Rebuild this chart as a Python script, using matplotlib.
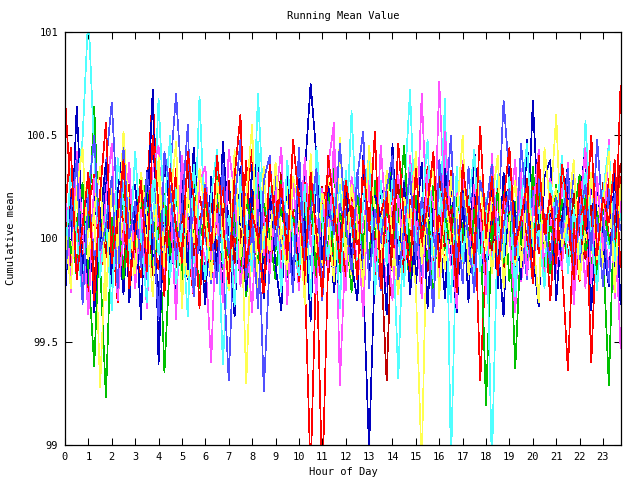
import numpy as np
import matplotlib
matplotlib.use("Agg")
import matplotlib.pyplot as plt

STEP_H = 0.25  # sampling step (hours)

s01 = [100.68, 100.21, 99.86, 100.05, 99.74, 100.18, 100.32, 99.91, 100.07, 99.69, 100.14, 100.26,
       99.95, 99.81, 100.22, 100.71, 100.03, 99.77, 100.12, 99.88, 100.35, 99.96, 99.72, 100.09,
       100.19, 99.84, 99.98, 100.27, 99.79, 100.11, 99.93, 100.38, 99.85, 100.02, 99.71, 100.16,
       100.24, 99.90, 100.06, 99.76, 100.29, 99.83, 98.85, 99.94, 100.13, 100.31, 99.87, 100.04,
       99.78, 100.20, 100.01, 99.89, 100.36, 99.75, 100.10, 99.97, 100.25, 99.82, 100.08, 99.92,
       100.17, 99.73, 100.28, 99.99, 100.12, 99.86, 100.33, 99.80, 100.05, 99.95, 100.21, 99.31,
       99.91, 100.15, 99.84, 100.30, 100.02, 99.77, 100.19, 99.88, 100.26, 99.93, 100.09, 99.70,
       100.14, 100.35, 99.87, 100.06, 99.79, 100.23, 99.40, 100.11, 99.96, 100.29, 99.85, 100.74]
s02 = [99.92, 100.13, 99.81, 100.26, 100.04, 100.64, 99.88, 99.23, 100.10, 99.97, 100.22, 99.79,
       100.08, 100.31, 99.86, 100.01, 100.17, 99.35, 99.94, 100.24, 99.83, 100.12, 100.03, 99.76,
       100.20, 99.91, 100.34, 99.85, 100.07, 99.98, 100.18, 99.72, 100.11, 100.27, 99.89, 100.02,
       99.80, 100.15, 99.95, 100.30, 99.87, 100.06, 100.23, 99.78, 100.14, 99.93, 100.37, 99.84,
       100.09, 99.74, 100.19, 100.00, 99.90, 100.28, 99.82, 100.13, 100.42, 99.96, 100.05, 99.77,
       100.21, 99.88, 100.10, 99.69, 100.25, 99.94, 100.16, 99.81, 100.32, 100.01, 99.86, 100.12,
       99.19, 100.07, 99.92, 100.24, 99.79, 100.18, 100.03, 99.87, 100.35, 99.97, 100.11, 99.83,
       100.26, 99.90, 100.15, 99.75, 100.08, 100.20, 99.86, 100.13, 99.95, 99.29, 100.22, 100.04]
s03 = [100.12, 99.89, 100.64, 100.03, 99.78, 100.21, 99.95, 100.30, 99.84, 100.09, 99.73, 100.17,
       100.26, 99.92, 100.05, 100.72, 99.39, 100.14, 99.87, 100.23, 100.01, 99.80, 100.33, 99.96,
       99.85, 100.19, 100.07, 99.77, 100.28, 99.94, 100.11, 99.82, 100.36, 100.00, 99.88, 100.15,
       99.97, 100.24, 99.81, 100.10, 99.90, 100.31, 100.75, 100.40, 99.86, 100.18, 99.74, 100.06,
       100.22, 99.93, 100.12, 99.79, 98.98, 99.88, 100.27, 100.02, 99.84, 100.16, 99.95, 100.34,
       99.78, 100.09, 100.21, 99.87, 100.04, 99.71, 100.29, 99.96, 100.13, 99.83, 100.25, 100.00,
       99.90, 100.17, 99.76, 100.32, 100.06, 99.85, 100.20, 99.94, 100.67, 100.08, 99.80, 100.14,
       100.01, 99.89, 100.26, 99.73, 100.11, 99.97, 100.30, 99.82, 100.07, 100.19, 99.86, 100.23]
s04 = [99.88, 100.15, 100.02, 99.79, 100.24, 99.91, 100.09, 100.33, 99.85, 100.06, 99.97, 100.20,
       99.76, 100.11, 99.93, 100.28, 100.04, 99.82, 100.17, 99.98, 100.36, 99.87, 100.13, 100.01,
       99.90, 99.40, 100.21, 99.95, 100.08, 99.78, 100.30, 100.05, 99.86, 100.19, 99.92, 100.12,
       100.27, 99.83, 100.00, 100.14, 99.75, 100.22, 99.96, 100.10, 99.88, 100.35, 100.56, 99.29,
       99.98, 100.18, 99.84, 100.07, 100.25, 99.91, 100.03, 99.77, 100.16, 100.31, 99.89, 100.11,
       99.94, 100.70, 100.02, 99.81, 100.76, 100.08, 99.87, 100.23, 99.99, 100.15, 99.80, 100.29,
       100.06, 99.92, 100.19, 99.85, 100.12, 100.38, 99.79, 100.04, 99.95, 100.21, 99.88, 100.10,
       99.83, 100.26, 100.00, 99.93, 100.17, 99.76, 100.32, 99.97, 100.09, 99.86, 100.14, 99.47]
s05 = [100.05, 99.82, 100.23, 100.48, 101.10, 100.41, 99.90, 100.14, 99.77, 100.02, 100.27, 99.93,
       100.11, 99.86, 100.19, 99.97, 100.68, 100.06, 99.81, 100.25, 99.94, 100.12, 99.88, 100.69,
       100.00, 99.84, 100.17, 99.39, 99.96, 100.30, 99.79, 100.08, 99.91, 100.70, 100.13, 99.87,
       100.22, 99.95, 100.04, 99.76, 100.34, 99.89, 100.10, 99.98, 100.18, 99.83, 100.06, 100.26,
       99.92, 100.62, 100.01, 99.80, 100.15, 99.94, 100.28, 99.87, 100.09, 99.32, 100.20, 100.72,
       99.97, 100.11, 99.85, 100.24, 100.03, 100.68, 98.90, 100.07, 99.90, 100.19, 99.81, 100.13,
       100.02, 99.88, 100.31, 99.96, 100.10, 99.78, 100.21, 99.93, 100.05, 100.16, 99.84, 100.27,
       99.91, 100.12, 99.99, 100.23, 99.86, 100.57, 100.04, 99.80, 100.18, 99.95, 100.09, 99.88]
s06 = [100.09, 99.91, 100.20, 99.84, 100.03, 100.15, 99.28, 99.97, 100.26, 99.88, 100.12, 100.01,
       99.79, 100.23, 99.95, 100.07, 100.31, 99.86, 100.14, 99.92, 100.04, 99.81, 100.19, 99.99,
       100.27, 99.90, 100.06, 100.17, 99.83, 100.00, 100.22, 99.30, 100.10, 99.94, 100.35, 99.85,
       100.13, 99.96, 100.25, 99.80, 100.08, 99.93, 100.18, 100.02, 99.87, 100.29, 99.91, 100.11,
       100.00, 99.82, 100.16, 99.95, 100.40, 99.89, 100.07, 100.21, 99.84, 100.12, 99.97, 100.05,
       99.76, 98.90, 100.24, 99.92, 100.10, 99.85, 100.30, 100.01, 99.88, 100.17, 99.94, 100.06,
       100.20, 99.83, 100.09, 99.98, 100.26, 99.87, 100.13, 100.03, 99.79, 100.22, 99.95, 100.15,
       100.60, 99.90, 100.08, 99.81, 100.19, 100.02, 99.93, 100.27, 99.86, 100.11, 99.98, 100.20]
s07 = [99.94, 100.18, 99.83, 100.09, 100.25, 99.90, 100.02, 100.36, 100.66, 100.12, 99.86, 100.20,
       99.97, 100.06, 99.80, 100.27, 100.11, 99.92, 100.33, 100.70, 100.24, 99.88, 100.15, 99.95,
       100.03, 99.78, 100.19, 99.91, 99.31, 100.08, 99.85, 100.22, 99.98, 100.14, 99.26, 99.89,
       100.30, 99.96, 100.12, 99.84, 100.20, 100.01, 99.87, 100.26, 99.93, 100.10, 99.79, 100.17,
       100.04, 99.90, 100.32, 99.86, 100.13, 99.97, 99.75, 100.21, 100.06, 99.83, 100.28, 99.94,
       100.09, 99.82, 100.18, 100.00, 99.89, 100.25, 99.95, 100.11, 99.78, 100.35, 99.99, 100.07,
       99.85, 100.16, 100.03, 100.67, 100.29, 99.91, 100.08, 99.80, 100.23, 99.96, 100.12, 99.88,
       100.19, 99.93, 100.05, 100.31, 99.84, 100.14, 99.97, 100.10, 99.77, 100.24, 100.02, 99.90]
s08 = [100.16, 99.87, 100.04, 99.95, 100.22, 99.80, 100.11, 99.93, 100.30, 100.01, 99.84, 100.19,
       99.90, 100.13, 100.27, 99.82, 100.06, 99.97, 100.21, 99.86, 100.09, 100.34, 99.92, 100.03,
       99.79, 100.17, 99.94, 100.10, 100.28, 99.88, 100.05, 99.76, 100.23, 99.99, 100.14, 99.85,
       100.08, 100.32, 99.91, 100.02, 99.83, 100.19, 100.07, 99.95, 100.25, 99.81, 100.12, 99.98,
       100.20, 99.89, 100.06, 99.77, 100.15, 100.00, 99.93, 99.31, 100.11, 100.26, 99.86, 100.04,
       99.92, 100.18, 99.84, 100.09, 100.30, 99.96, 100.14, 99.79, 100.02, 100.21, 99.88, 100.10,
       100.05, 99.94, 100.24, 99.83, 100.13, 100.01, 99.87, 100.29, 99.97, 100.07, 99.80, 100.18,
       99.95, 100.11, 99.86, 100.22, 100.03, 99.90, 100.16, 99.82, 100.27, 99.99, 100.08, 100.36]
s09 = [99.86, 100.24, 100.07, 99.91, 100.15, 100.31, 99.82, 100.03, 99.96, 100.19, 100.08, 99.78,
       100.12, 99.94, 100.26, 100.02, 99.85, 100.17, 99.99, 100.34, 99.88, 100.10, 99.97, 100.21,
       100.05, 99.81, 100.13, 100.29, 99.92, 100.00, 99.87, 100.18, 100.43, 99.95, 100.09, 99.84,
       100.22, 100.01, 99.90, 100.14, 99.79, 100.27, 100.06, 99.93, 98.80, 99.89, 100.20, 100.04,
       99.83, 100.16, 99.97, 100.30, 100.08, 99.86, 100.12, 100.23, 99.91, 100.02, 99.80, 100.19,
       100.07, 99.95, 100.35, 99.84, 100.11, 99.98, 100.04, 99.88, 100.25, 100.09, 99.93, 100.17,
       99.81, 100.13, 99.96, 100.06, 100.28, 99.90, 100.18, 100.00, 99.85, 100.22, 100.10, 99.94,
       100.15, 99.87, 99.36, 100.05, 100.20, 99.92, 100.11, 99.83, 100.24, 100.01, 99.96, 100.30]
s10 = [100.20, 99.93, 100.06, 100.27, 99.85, 99.38, 100.12, 100.01, 99.90, 100.18, 99.80, 100.09,
       99.96, 100.14, 100.30, 99.87, 100.03, 100.22, 99.92, 100.08, 99.79, 100.16, 100.35, 99.99,
       100.11, 99.84, 100.25, 100.00, 99.91, 100.13, 99.78, 100.20, 100.05, 99.88, 100.17, 100.02,
       99.94, 100.28, 99.82, 100.10, 100.04, 99.97, 100.19, 99.86, 100.07, 100.24, 99.90, 100.12,
       100.01, 99.87, 100.21, 99.95, 100.33, 100.06, 99.83, 100.15, 99.98, 100.09, 100.45, 99.92,
       100.18, 100.03, 99.89, 100.26, 99.80, 100.11, 99.96, 100.20, 100.05, 99.85, 100.14, 99.93,
       100.08, 99.99, 100.23, 99.88, 100.12, 99.37, 100.02, 100.17, 99.91, 100.29, 99.84, 100.06,
       99.97, 100.19, 99.86, 100.10, 100.31, 99.94, 100.04, 99.81, 100.15, 100.00, 99.89, 100.21]
s11 = [99.72, 100.18, 100.41, 99.83, 100.26, 99.64, 100.09, 100.37, 99.78, 100.22, 100.45, 99.69,
       100.15, 99.61, 100.33, 99.92, 99.70, 100.39, 100.12, 99.66, 100.28, 99.85, 100.44, 100.03,
       99.68, 100.30, 99.81, 100.47, 100.06, 99.62, 100.35, 99.75, 100.19, 100.42, 99.71, 100.24,
       99.87, 99.65, 100.38, 99.74, 100.29, 100.08, 99.60, 100.36, 99.90, 100.25, 100.13, 99.67,
       100.32, 99.88, 99.70, 100.40, 99.79, 100.21, 100.10, 99.63, 100.46, 99.84, 100.27, 99.73,
       100.05, 100.37, 99.66, 100.17, 99.82, 100.34, 99.95, 99.64, 100.23, 99.69, 100.43, 100.02,
       99.76, 100.26, 99.98, 99.62, 100.35, 100.11, 99.80, 100.48, 99.93, 99.67, 100.30, 100.38,
       99.70, 100.09, 100.36, 99.81, 100.18, 100.44, 99.65, 100.27, 99.97, 99.77, 100.33, 99.68]
s12 = [100.31, 99.74, 100.42, 100.06, 99.63, 100.29, 99.85, 100.20, 100.46, 99.70, 100.03, 100.37,
       99.79, 100.14, 99.66, 100.33, 100.45, 99.88, 100.19, 99.61, 100.40, 100.08, 99.72, 100.27,
       100.35, 99.90, 100.12, 99.69, 100.43, 100.22, 99.77, 100.05, 99.64, 100.32, 100.10, 99.83,
       100.18, 100.44, 99.68, 100.28, 99.93, 100.39, 100.01, 99.73, 100.24, 99.86, 100.49, 99.97,
       99.75, 100.30, 100.09, 99.62, 100.36, 99.84, 100.45, 100.04, 99.70, 100.21, 99.91, 100.40,
       100.07, 99.71, 100.33, 100.15, 99.80, 100.52, 100.00, 99.66, 100.38, 99.89, 100.26, 100.11,
       99.73, 100.41, 99.95, 100.19, 100.02, 99.64, 100.34, 99.82, 100.12, 100.43, 99.76, 100.29,
       100.01, 99.85, 100.37, 99.68, 100.13, 100.44, 99.78, 100.30, 99.94, 100.48, 99.71, 100.20]
s13 = [99.86, 100.34, 100.02, 99.70, 100.27, 100.45, 99.81, 100.10, 99.65, 100.39, 100.16, 99.88,
       100.42, 100.00, 99.69, 100.28, 99.92, 100.15, 100.50, 99.78, 100.07, 99.62, 100.36, 100.04,
       99.80, 100.21, 100.43, 99.88, 100.11, 99.67, 100.31, 100.05, 99.84, 100.47, 99.95, 100.25,
       100.13, 99.74, 100.38, 100.00, 99.82, 100.26, 99.71, 100.44, 100.08, 99.90, 100.22, 99.66,
       100.33, 100.04, 99.85, 100.17, 100.41, 99.73, 100.10, 99.93, 100.29, 100.00, 99.77, 100.36,
       99.98, 100.12, 100.48, 99.80, 100.24, 100.06, 99.69, 100.35, 99.89, 100.15, 100.43, 99.84,
       100.20, 98.90, 100.08, 99.91, 100.30, 99.72, 100.18, 100.46, 99.96, 100.04, 99.76, 100.27,
       100.10, 100.40, 99.83, 100.14, 99.93, 100.32, 100.02, 99.75, 100.22, 100.45, 99.89, 100.12]
s14 = [100.04, 99.76, 100.23, 100.44, 99.90, 100.14, 100.35, 99.70, 100.26, 99.95, 100.52, 100.08,
       99.83, 100.32, 100.10, 99.72, 100.40, 99.87, 100.18, 100.47, 99.66, 100.24, 99.98, 100.34,
       100.12, 99.80, 100.28, 100.02, 99.75, 100.43, 99.90, 100.20, 100.55, 99.71, 100.06, 99.94,
       100.37, 100.00, 99.85, 100.30, 100.16, 99.68, 100.41, 99.93, 100.22, 100.08, 99.79, 100.49,
       99.90, 100.26, 100.04, 99.77, 100.45, 100.12, 99.84, 100.33, 100.00, 99.73, 100.20, 100.06,
       100.42, 99.88, 100.16, 100.36, 99.71, 100.24, 99.97, 100.10, 100.50, 99.82, 100.02, 100.30,
       99.94, 100.18, 100.40, 99.76, 100.08, 100.28, 99.86, 100.22, 100.04, 99.69, 100.44, 100.14,
       100.24, 99.96, 100.12, 100.38, 99.80, 100.06, 100.32, 99.90, 100.16, 100.42, 99.74, 100.26]
s15 = [99.82, 100.12, 100.38, 99.68, 100.20, 100.50, 99.94, 100.06, 100.30, 99.76, 100.44, 100.00,
       100.18, 99.86, 100.32, 100.08, 99.61, 100.42, 100.24, 99.90, 100.14, 100.55, 99.72, 100.02,
       100.26, 100.04, 99.78, 100.36, 99.92, 100.16, 100.48, 99.80, 100.10, 99.66, 100.28, 100.40,
       99.96, 100.22, 100.06, 99.74, 100.44, 99.88, 100.12, 100.34, 99.70, 100.18, 100.02, 100.46,
       100.08, 99.84, 100.30, 100.52, 99.76, 100.14, 99.98, 100.24, 100.40, 99.80, 100.06, 100.32,
       99.90, 100.20, 100.02, 99.64, 100.38, 100.10, 100.50, 99.86, 100.22, 100.00, 99.74, 100.28,
       100.14, 100.36, 99.82, 100.06, 100.24, 99.92, 100.46, 100.10, 99.78, 100.30, 100.04, 99.88,
       100.20, 100.00, 100.34, 99.84, 100.12, 100.26, 99.94, 100.48, 100.08, 99.78, 100.22, 100.04]
s16 = [100.14, 100.44, 99.80, 100.06, 100.32, 99.70, 100.22, 100.56, 99.88, 100.10, 100.38, 99.76,
       100.02, 100.28, 99.84, 100.50, 100.16, 99.72, 100.34, 100.04, 99.90, 100.42, 100.20, 99.66,
       100.24, 99.94, 100.40, 100.08, 99.78, 100.30, 100.60, 99.86, 100.12, 100.00, 99.74, 100.36,
       100.06, 100.26, 99.90, 100.48, 100.18, 99.82, 100.32, 100.02, 99.72, 100.40, 100.14, 99.88,
       100.28, 100.10, 99.80, 100.38, 100.04, 100.52, 99.76, 100.20, 99.94, 100.46, 100.08, 99.84,
       100.34, 99.98, 100.16, 100.42, 99.86, 100.24, 100.06, 99.74, 100.36, 100.12, 99.92, 100.54,
       100.00, 100.30, 99.82, 100.18, 100.44, 99.96, 100.10, 100.26, 99.78, 100.40, 100.02, 100.22,
       99.88, 100.36, 100.14, 99.80, 100.28, 100.04, 100.50, 99.92, 100.20, 100.08, 100.38, 99.86]

series = [s01, s02, s03, s04, s05, s06, s07, s08, s09, s10, s11, s12, s13, s14, s15, s16]
colors = ['#ff0000', '#00c000', '#0000c0', '#ff50ff', '#50ffff', '#ffff50', '#5050ff', '#c00000',
          '#ff0000', '#00c000', '#0000c0', '#ff50ff', '#50ffff', '#ffff50', '#5050ff', '#ff0000']

x_ticks = list(range(24))
y_ticks = [99, 99.5, 100, 100.5, 101]
y_tick_labels = ['99', '99.5', '100', '100.5', '101']

FONT = ['DejaVu Sans Mono']
plt.rcParams['font.family'] = FONT
plt.rcParams['font.size'] = 7

fig = plt.figure(figsize=(6.4, 4.8), dpi=100)
ax = fig.add_axes([65 / 640, 35 / 480, 556 / 640, 413 / 480])

hours = np.arange(len(s01)) * STEP_H
for vals, c in zip(series, colors):
    ax.plot(hours, vals, color=c, linewidth=0.5, antialiased=False, solid_joinstyle='miter')

ax.set_xlim(0, 23.77)
ax.set_ylim(99, 101)
ax.set_xticks(x_ticks)
ax.set_xticklabels([str(t) for t in x_ticks])
ax.set_yticks(y_ticks)
ax.set_yticklabels(y_tick_labels)
ax.tick_params(direction='in', length=5, width=0.75, top=True, right=True, pad=5, labelsize=7.5)
for sp in ax.spines.values():
    sp.set_linewidth(0.9)
    sp.set_zorder(5)

fig.text(343 / 640, 1 - 16 / 480, 'Running Mean Value', ha='center', va='center', fontsize=7.5)
fig.text(343 / 640, 1 - 472 / 480, 'Hour of Day', ha='center', va='center', fontsize=7.5)
fig.text(11 / 640, 1 - 238 / 480, 'Cumulative mean', ha='center', va='center', rotation=90, fontsize=7.5)

fig.savefig('out.png', dpi=100)
